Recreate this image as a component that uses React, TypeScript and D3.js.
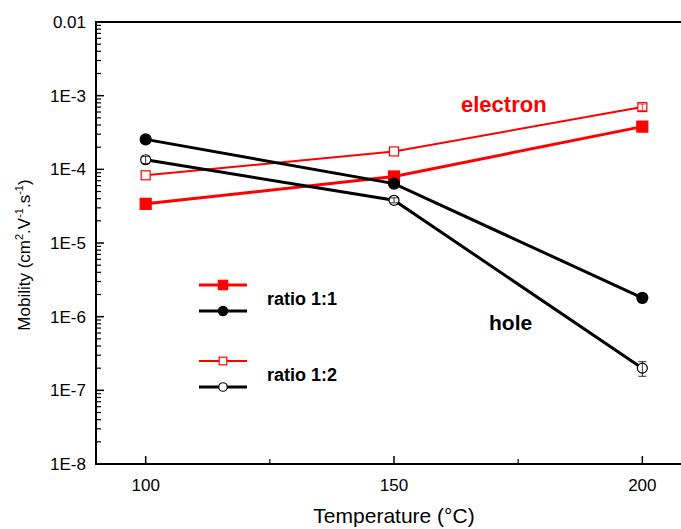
import React from "react";
import * as d3 from "d3";

const temps = [100, 150, 200];
const electron11 = [3.4e-5, 8.0e-5, 3.8e-4];
const electron12 = [8.3e-5, 1.75e-4, 7.0e-4];
const hole11 = [2.55e-4, 6.4e-5, 1.8e-6];
const hole12 = [1.35e-4, 3.8e-5, 2.0e-7];
const hole11Err = [0, 0, 0.25e-6];
const hole12Err = [0.15e-4, 0.3e-5, 0.45e-7];
const electron12Err = [0, 0, 0.7e-4];
const xTicks = [100, 150, 200];
const xMinor = [125, 175];
const yTicks = [1e-8, 1e-7, 1e-6, 1e-5, 1e-4, 1e-3, 1e-2];
const yLabels = ["1E-8", "1E-7", "1E-6", "1E-5", "1E-4", "1E-3", "0.01"];

const W = 681, H = 529;
const x = d3.scaleLinear().domain([90, 210]).range([96, 692]);
const y = d3.scaleLog().domain([1e-8, 1e-2]).range([464, 22]);

type S = { vals: number[]; err: number[]; color: string; width: number; shape: "sq" | "ci"; filled: boolean };
const series: S[] = [
  { vals: electron12, err: electron12Err, color: "#ff0000", width: 2, shape: "sq", filled: false },
  { vals: electron11, err: [0, 0, 0], color: "#ff0000", width: 3, shape: "sq", filled: true },
  { vals: hole12, err: hole12Err, color: "#000", width: 3, shape: "ci", filled: false },
  { vals: hole11, err: hole11Err, color: "#000", width: 3, shape: "ci", filled: true },
];

const line = d3.line<[number, number]>().x(d => x(d[0])).y(d => y(d[1]));

function Marker({ cx, cy, s, small }: { cx: number; cy: number; s: S; small?: boolean }) {
  const k = small ? 0.85 : 1;
  if (s.shape === "sq") {
    const h = (s.filled ? 5.5 : 4.5) * k;
    return <rect x={cx - h} y={cy - h} width={2 * h} height={2 * h}
      fill={s.filled ? s.color : "#fff"} stroke={s.color} strokeWidth={1.2} />;
  }
  return <circle cx={cx} cy={cy} r={(s.filled ? 5.5 : 5) * k}
    fill={s.filled ? s.color : "#fff"} stroke={s.color} strokeWidth={1.2} />;
}

export default function App() {
  const minor: number[] = [];
  for (let e = -8; e < -2; e++) for (let k = 2; k <= 9; k++) minor.push(k * Math.pow(10, e));
  return (
    <svg width={W} height={H} style={{ position: "absolute", left: 0, top: 0, background: "#fff" }}
      fontFamily="Arial, 'Liberation Sans', sans-serif">
      <rect width={W} height={H} fill="#fff" />
      <line x1={96} x2={700} y1={22} y2={22} stroke="#000" strokeWidth={2} />
      <line x1={96} x2={96} y1={21} y2={465} stroke="#000" strokeWidth={2} />
      <line x1={95} x2={700} y1={464} y2={464} stroke="#000" strokeWidth={2} />
      {yTicks.map((t, i) => (
        <g key={t}>
          <line x1={96} x2={104} y1={y(t)} y2={y(t)} stroke="#000" strokeWidth={1.5} />
          <text x={86} y={y(t)} dy="0.35em" textAnchor="end" fontSize={17}>{yLabels[i]}</text>
        </g>
      ))}
      {minor.map(t => (
        <line key={t} x1={96} x2={101} y1={y(t)} y2={y(t)} stroke="#000" strokeWidth={1.2} />
      ))}
      {xTicks.map(t => (
        <g key={t}>
          <line x1={x(t)} x2={x(t)} y1={464} y2={456} stroke="#000" strokeWidth={1.5} />
          <text x={x(t)} y={491} textAnchor="middle" fontSize={17}>{t}</text>
        </g>
      ))}
      {xMinor.map(t => (
        <line key={t} x1={x(t)} x2={x(t)} y1={464} y2={459} stroke="#000" strokeWidth={1.2} />
      ))}
      <text x={394} y={523} textAnchor="middle" fontSize={21}>Temperature (°C)</text>
      <text transform="translate(30,255) rotate(-90)" textAnchor="middle" fontSize={17}>
        Mobility (cm<tspan dy={-7} fontSize={11}>2</tspan><tspan dy={7}>.V</tspan>
        <tspan dy={-7} fontSize={11}>-1</tspan><tspan dy={7}>.s</tspan>
        <tspan dy={-7} fontSize={11}>-1</tspan><tspan dy={7}>)</tspan>
      </text>
      {series.map((s, i) => (
        <g key={i}>
          <path d={line(temps.map((t, j) => [t, s.vals[j]]) as [number, number][]) || ""}
            fill="none" stroke={s.color} strokeWidth={s.width} />
          {temps.map((t, j) => {
            const cx = x(t), cy = y(s.vals[j]);
            const e = s.err[j];
            const m = <Marker key={"m" + j} cx={cx} cy={cy} s={s} />;
            if (!e) return m;
            const y1 = y(s.vals[j] + e), y2 = y(s.vals[j] - e);
            const eb = (
              <g key={"e" + j} stroke={s.filled ? "#000" : s.color} strokeWidth={0.8}>
                <line x1={cx} x2={cx} y1={y1} y2={y2} />
                <line x1={cx - 4} x2={cx + 4} y1={y1} y2={y1} />
                <line x1={cx - 4} x2={cx + 4} y1={y2} y2={y2} />
              </g>
            );
            return <g key={j}>{m}{eb}</g>;
          })}
        </g>
      ))}
      <line x1={199} x2={247} y1={285} y2={285} stroke="#ff0000" strokeWidth={3} />
      <Marker cx={223} cy={285} s={series[1]} small />
      <line x1={199} x2={247} y1={311} y2={311} stroke="#000" strokeWidth={3} />
      <Marker cx={223} cy={311} s={series[3]} small />
      <text x={267} y={305} fontSize={18} fontWeight="bold">ratio 1:1</text>
      <line x1={199} x2={247} y1={361} y2={361} stroke="#ff0000" strokeWidth={2} />
      <Marker cx={223} cy={361} s={series[0]} small />
      <line x1={199} x2={247} y1={387} y2={387} stroke="#000" strokeWidth={3} />
      <Marker cx={223} cy={387} s={series[2]} small />
      <text x={267} y={381} fontSize={18} fontWeight="bold">ratio 1:2</text>
      <text x={461} y={112} fontSize={22} fontWeight="bold" fill="#ff0000">electron</text>
      <text x={489} y={330} fontSize={21} fontWeight="bold" fill="#000">hole</text>
    </svg>
  );
}
